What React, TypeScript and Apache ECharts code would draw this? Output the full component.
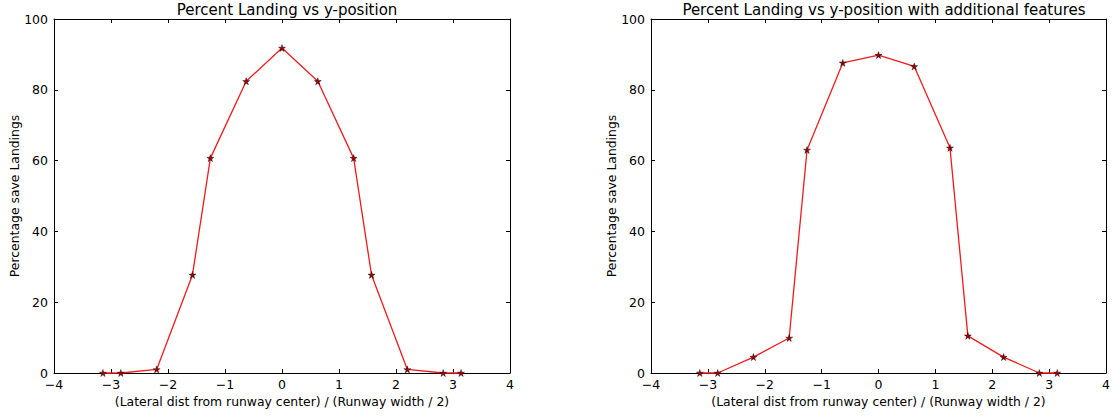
import React, { useEffect, useRef } from "react";
import * as echarts from "echarts";

const xPositions = [-3.1416, -2.8274, -2.1991, -1.5708, -1.2566, -0.6283, 0, 0.6283, 1.2566, 1.5708, 2.1991, 2.8274, 3.1416];
const landingBase = [0, 0, 1.0, 27.7, 60.7, 82.4, 91.8, 82.4, 60.7, 27.7, 1.0, 0, 0];
const landingFeatures = [0, 0, 4.5, 9.9, 63.0, 87.6, 89.8, 86.6, 63.6, 10.5, 4.5, 0, 0];

const titles = ["Percent Landing vs y-position", "Percent Landing vs y-position with additional features"];
const xName = "(Lateral dist from runway center) / (Runway width / 2)";
const yName = "Percentage save Landings";

const FONT = "DejaVu Sans";
const STAR = "path://M0,-1 L0.2245,-0.309 L0.951,-0.309 L0.363,0.118 L0.588,0.809 L0,0.382 L-0.588,0.809 L-0.363,0.118 L-0.951,-0.309 L-0.2245,-0.309 Z";

export default function App() {
  const ref = useRef<HTMLDivElement>(null);
  useEffect(() => {
    document.body.style.margin = "0";
    const chart = echarts.init(ref.current!, null, { renderer: "svg" });
    const grids = [
      { left: 54, top: 19, width: 456, height: 354 },
      { left: 651, top: 19, width: 456, height: 354 },
    ];
    const lineStyle = { color: "#000", width: 1 };
    const xAxes: any[] = [];
    const yAxes: any[] = [];
    const series: any[] = [];
    const datasets = [landingBase, landingFeatures];
    grids.forEach((g, i) => {
      xAxes.push({
        type: "value", gridIndex: i, min: -4, max: 4, interval: 1, position: "bottom",
        axisLine: { show: true, lineStyle, onZero: false },
        axisTick: { show: true, inside: true, length: 4, lineStyle },
        axisLabel: { color: "#000", fontFamily: FONT, fontSize: 12.5, margin: 5, formatter: (v: number) => (v < 0 ? "\u2212" + Math.abs(v) : String(v)) },
        splitLine: { show: false },
        name: xName, nameLocation: "middle", nameGap: 21,
        nameTextStyle: { color: "#000", fontFamily: FONT, fontSize: 12.4 },
      });
      xAxes.push({
        type: "value", gridIndex: i, min: -4, max: 4, interval: 1, position: "top",
        axisLine: { show: true, lineStyle, onZero: false },
        axisTick: { show: true, inside: true, length: 4, lineStyle },
        axisLabel: { show: false }, splitLine: { show: false },
      });
      yAxes.push({
        type: "value", gridIndex: i, min: 0, max: 100, interval: 20, position: "left",
        axisLine: { show: true, lineStyle, onZero: false },
        axisTick: { show: true, inside: true, length: 4, lineStyle },
        axisLabel: { color: "#000", fontFamily: FONT, fontSize: 12.5, margin: 6 },
        splitLine: { show: false },
        name: yName, nameLocation: "middle", nameGap: 33, nameRotate: 90,
        nameTextStyle: { color: "#000", fontFamily: FONT, fontSize: 12.4 },
      });
      yAxes.push({
        type: "value", gridIndex: i, min: 0, max: 100, interval: 20, position: "right",
        axisLine: { show: true, lineStyle, onZero: false },
        axisTick: { show: true, inside: true, length: 4, lineStyle },
        axisLabel: { show: false }, splitLine: { show: false },
      });
      series.push({
        type: "line", xAxisIndex: i * 2, yAxisIndex: i * 2,
        data: xPositions.map((x, k) => [x, datasets[i][k]]),
        symbol: STAR, symbolSize: 7, showAllSymbol: true, clip: false,
        lineStyle: { color: "#ee1c1c", width: 1.3 },
        itemStyle: { color: "#a00000", borderColor: "#000", borderWidth: 0.4 },
      });
    });
    chart.setOption({
      animation: false,
      backgroundColor: "#fff",
      title: titles.map((t, i) => ({
        text: t, left: grids[i].left + grids[i].width / 2, top: -3, textAlign: "center",
        textStyle: { fontFamily: FONT, fontSize: 15, fontWeight: "normal", color: "#000" },
      })),
      grid: grids,
      xAxis: xAxes,
      yAxis: yAxes,
      series,
    });
    return () => chart.dispose();
  }, []);
  return <div ref={ref} style={{ width: 1113, height: 416 }} />;
}
